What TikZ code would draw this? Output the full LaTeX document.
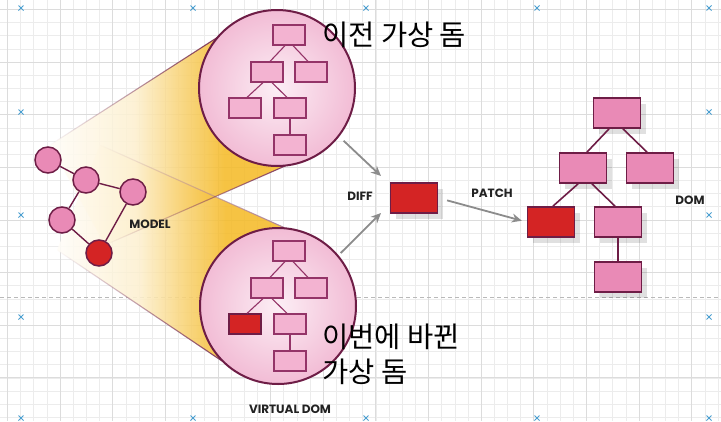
\documentclass[tikz,border=0pt]{standalone}
\usepackage{fontspec}
\setmainfont{Liberation Sans}
\newfontfamily\kr{Noto Sans CJK KR}
\newfontfamily\labf{Poppins}
\usetikzlibrary{arrows.meta,shadows,fadings,calc}
\definecolor{gridminor}{HTML}{ECECEC}
\definecolor{gridmajor}{HTML}{DCDCDC}
\definecolor{markblue}{HTML}{4A9FD0}
\definecolor{dpurple}{HTML}{6E1D46}
\definecolor{mpurple}{HTML}{943468}
\definecolor{boxpink}{HTML}{E98AB6}
\definecolor{lightpink}{HTML}{F3B3D1}
\definecolor{cirin}{HTML}{FCEEF5}
\definecolor{cirout}{HTML}{F2BCD5}
\definecolor{redbox}{HTML}{D42424}
\definecolor{gold}{HTML}{F5BB2A}
\definecolor{arrgray}{HTML}{8C8C8C}
\definecolor{txt}{HTML}{222222}
\colorlet{gold05}{gold!3}
\colorlet{gold30}{gold!22}
\colorlet{gold75}{gold!65}
\pgfdeclarehorizontalshading{conegold}{100bp}{color(0bp)=(gold05); color(25bp)=(gold05); color(43bp)=(gold30); color(53bp)=(gold75); color(62bp)=(gold); color(100bp)=(gold)}
\tikzfading[name=edgefade, left color=transparent!100, middle color=transparent!25, right color=transparent!0]
\newcommand\innertree[3]{%
  \node[innernode] (#1r) at (289,35+#2) {};
  \node[innernode] (#1a) at (267,72+#2) {};
  \node[innernode] (#1b) at (311,72+#2) {};
  \node[#3] (#1c) at (245,108+#2) {};
  \node[innernode] (#1d) at (290,108+#2) {};
  \node[innernode] (#1e) at (290,145+#2) {};
  \draw[inedge] ($(#1r.south)+(-4,0)$) -- ($(#1a.north)+(3,0)$);
  \draw[inedge] ($(#1r.south)+(4,0)$) -- ($(#1b.north)+(-3,0)$);
  \draw[inedge] ($(#1a.south)+(-4,0)$) -- ($(#1c.north)+(2,0)$);
  \draw[inedge] ($(#1a.south)+(5,0)$) -- ($(#1d.north)+(-3,0)$);
  \draw[inedge] (#1d.south) -- (#1e.north);
}
\begin{document}
\begin{tikzpicture}[x=1pt,y=-1pt,
  domnode/.style={draw=dpurple, line width=1.8pt, fill=boxpink, minimum width=47pt, minimum height=30pt, inner sep=0pt,
    drop shadow={shadow xshift=5pt, shadow yshift=-6pt, opacity=0.12, fill=black}},
  domred/.style={domnode, fill=redbox},
  innernode/.style={draw=mpurple, line width=1.2pt, fill=lightpink, minimum width=32pt, minimum height=20pt, inner sep=0pt},
  innerred/.style={innernode, fill=redbox, draw=dpurple},
  mnode/.style={circle, draw=dpurple, line width=1.5pt, fill=boxpink, minimum size=26pt, inner sep=0pt},
  mred/.style={mnode, fill=redbox},
  treeedge/.style={draw=dpurple, line width=1.6pt},
  inedge/.style={draw=mpurple, line width=1.1pt},
  conn/.style={draw=arrgray, line width=1.8pt, -{Stealth[length=10pt,width=9pt]}},
  lbl/.style={font=\labf\bfseries\fontsize{12}{14}\selectfont, text=txt, inner sep=0pt},
  kor/.style={font=\kr\fontsize{28.5}{32}\selectfont, text=black, inner sep=0pt, anchor=base west},
  zoomc/.style={circle, draw=dpurple, line width=2pt, inner color=cirin, outer color=cirout, minimum size=156pt, inner sep=0pt},
  markline/.style={draw=markblue, line width=0.8pt},
  conefill/.style={shading=conegold, opacity=0.88},
  coneedge/.style={line width=1.1pt, path fading=edgefade}
]
\useasboundingbox (0,0) rectangle (721,421);
\fill[white] (0,0) rectangle (721,421);
% grid
\foreach \i in {0,...,54} \draw[gridminor, line width=0.6pt] ({7.36+\i*13.16},0) -- ({7.36+\i*13.16},421);
\foreach \i in {0,...,31} \draw[gridminor, line width=0.6pt] (0,{9.36+\i*13.16}) -- (721,{9.36+\i*13.16});
\foreach \i in {0,...,13} \draw[gridmajor, line width=0.7pt] ({7.36+\i*52.64},0) -- ({7.36+\i*52.64},421);
\foreach \i in {0,...,8} \draw[gridmajor, line width=0.7pt] (0,{9.36+\i*52.64}) -- (721,{9.36+\i*52.64});
\draw[gray!55, line width=0.9pt, dash pattern=on 4pt off 3pt] (0,297) -- (721,297);
\foreach \mx/\my in {21/8,193/8,366/8,537/8,709/8,21/418,193/418,366/418,537/418,709/418,21/112,21/215,21/317,709/112,709/215,709/317}
  \draw[markline] (\mx-2.5,\my-2.5) -- (\mx+2.5,\my+2.5) (\mx-2.5,\my+2.5) -- (\mx+2.5,\my-2.5);
% cones
\coordinate (T1) at (50,145); \coordinate (T2) at (218,37);
\coordinate (T3) at (285,166); \coordinate (T4) at (105,245);
\coordinate (B1) at (100,145); \coordinate (B2) at (285,228);
\coordinate (B3) at (222,361); \coordinate (B4) at (57,250);
\shade[conefill] (B1) -- (B2) -- (278,306) -- (B3) -- (B4) -- cycle;
\shade[conefill] (T1) -- (T2) -- (277,88) -- (T3) -- (T4) -- cycle;
\draw[coneedge, dpurple!55] (B1) -- (B2);
\draw[coneedge, dpurple!85] (B4) -- (B3);
\draw[coneedge, dpurple!90] (T1) -- (T2);
\draw[coneedge, dpurple!85] (T4) -- (T3);
% zoom circles
\node[zoomc] (topc) at (277,88) {};
\node[zoomc] (botc) at (278,306) {};
\innertree{p}{0}{innernode}
\innertree{q}{216}{innerred}
% model graph
\node[mnode] (m1) at (48,160) {};
\node[mnode] (m2) at (86,180) {};
\node[mnode] (m3) at (133,192) {};
\node[mnode] (m4) at (62,220) {};
\node[mred] (m5) at (99,253) {};
\draw[treeedge, line width=1.4pt] (m1) -- (m2) (m2) -- (m3) (m2) -- (m4) (m4) -- (m5) (m5) -- (m3);
% labels
\node[lbl] (lmodel) at (150,224) {MODEL};
\node[lbl] (ldiff) at (360,196) {DIFF};
\node[lbl] (lpatch) at (492,193) {PATCH};
\node[lbl] (ldom) at (690,200) {DOM};
\node[lbl] (lvd) at (290,409) {VIRTUAL DOM};
\node[kor] (k1) at (322,45) {이전 가상 돔};
\node[kor] (k2) at (322,347) {이번에 바뀐};
\node[kor] (k3) at (322,382) {가상 돔};
% diff box and DOM tree
\node[domred] (diff) at (414,198) {};
\node[domnode] (dr) at (617,113) {};
\node[domnode] (dl) at (583,168) {};
\node[domnode] (drr) at (650,168) {};
\node[domred] (dll) at (551,222) {};
\node[domnode] (dlr) at (618,222) {};
\node[domnode] (dlrb) at (618,277) {};
\draw[treeedge] ($(dr.south)+(-8,0)$) -- ($(dl.north)+(4,0)$);
\draw[treeedge] ($(dr.south)+(6,0)$) -- ($(drr.north)+(-3,0)$);
\draw[treeedge] ($(dl.south)+(-5,0)$) -- ($(dll.north)+(2,0)$);
\draw[treeedge] ($(dl.south)+(9,0)$) -- ($(dlr.north)+(-3,0)$);
\draw[treeedge] (dlr.south) -- (dlrb.north);
% arrows
\coordinate (d1) at (381,176);
\coordinate (d2) at (381,213);
\draw[conn, shorten <=6pt] (topc.-38) -- (d1);
\draw[conn, shorten <=3pt] (botc.40) -- (d2);
\draw[conn, shorten <=9pt, shorten >=5pt] (diff.east) -- (dll.west);
\end{tikzpicture}
\end{document}
